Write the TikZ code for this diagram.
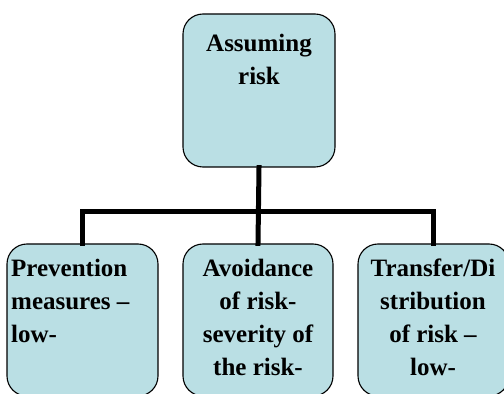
\documentclass[tikz,border=0pt]{standalone}
\usepackage{fontspec}
\setmainfont{Liberation Serif}
\definecolor{boxfill}{RGB}{186,223,228}
\tikzset{
  rbox/.style={draw=black, line width=1.1pt, fill=boxfill, rounded corners=20pt, inner sep=0pt},
  conn/.style={line width=5pt, line join=miter, line cap=rect},
  lbl/.style={inner sep=0pt, font=\bfseries\fontsize{25}{33}\selectfont, anchor=north},
}
\begin{document}
\begin{tikzpicture}[x=1pt,y=1pt]
\useasboundingbox (0,0) rectangle (504,394);
\node[rbox, minimum width=152pt, minimum height=153pt] (top) at (259,303.5) {};
\node[rbox, minimum width=151pt, minimum height=152pt] (b1) at (82.5,74) {};
\node[rbox, minimum width=150pt, minimum height=152pt] (b2) at (258,74) {};
\node[rbox, minimum width=151pt, minimum height=152pt] (b3) at (433.5,74) {};
\coordinate (j) at (259,182);
\draw[conn] (top.south) -- (b2.north);
\draw[conn] (b1.north) -- (b1.north |- j) -- (b3.north |- j) -- (b3.north);
\node[lbl, align=center] (t0) at (259,360) {Assuming\\risk};
\node[lbl, align=left, anchor=north west] (t1) at (11,135) {Prevention\\measures –\\low-};
\node[lbl, align=center] (t2) at (258,135) {Avoidance\\of risk-\\severity of\\the risk-};
\node[lbl, align=center] (t3) at (433,135) {Transfer/Di\\stribution\\of risk –\\low-};
\end{tikzpicture}
\end{document}
